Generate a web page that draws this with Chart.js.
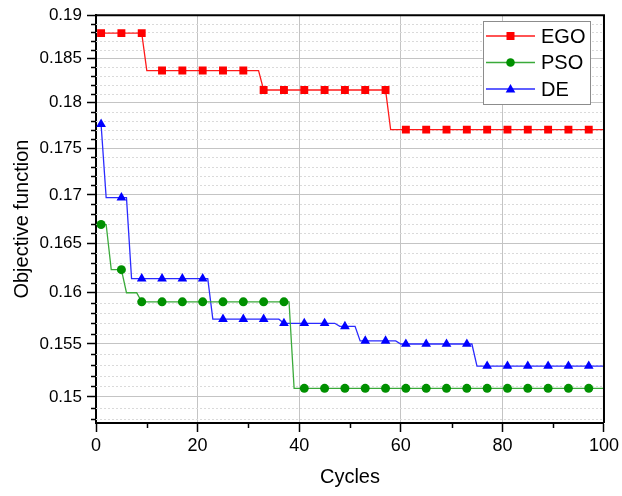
<!DOCTYPE html>
<html>
<head>
<meta charset="utf-8">
<script src="https://cdn.jsdelivr.net/npm/chart.js@4.4.0/dist/chart.umd.min.js"></script>
<style>
  html, body { margin: 0; padding: 0; background: #fff; }
  #wrap { width: 622px; height: 496px; }
</style>
</head>
<body>
<div id="wrap"><canvas id="chart"></canvas></div>
<script>
// cycles where the markers sit
const markerCycles = [1, 5, 9, 13, 17, 21, 25, 29, 33, 37, 41, 45, 49, 53, 57, 61, 65, 69, 73, 77, 81, 85, 89, 93, 97];

// objective value at each marker
const egoValues = [0.1879, 0.1879, 0.1879, 0.1836, 0.1836, 0.1836, 0.1836, 0.1836, 0.1814, 0.1814, 0.1814, 0.1814, 0.1814,
                   0.1814, 0.1814, 0.1770, 0.1770, 0.1770, 0.1770, 0.1770, 0.1770, 0.1770, 0.1770, 0.1770, 0.1770];
const psoValues = [0.1669, 0.1623, 0.1591, 0.1591, 0.1591, 0.1591, 0.1591, 0.1591, 0.1591, 0.1591, 0.1508, 0.1508, 0.1508,
                   0.1508, 0.1508, 0.1508, 0.1508, 0.1508, 0.1508, 0.1508, 0.1508, 0.1508, 0.1508, 0.1508, 0.1508];
const deValues  = [0.1776, 0.1697, 0.1614, 0.1614, 0.1614, 0.1614, 0.1574, 0.1574, 0.1574, 0.1570, 0.1570, 0.1570, 0.1567,
                   0.1553, 0.1553, 0.1550, 0.1550, 0.1550, 0.1550, 0.1529, 0.1529, 0.1529, 0.1529, 0.1529, 0.1529];

// step corners between markers: [cycle, value]
const egoSteps = [[10, 0.1836], [32, 0.1836], [58, 0.1770], [100, 0.1770]];
const psoSteps = [[2, 0.1669], [3, 0.1623], [6, 0.1600], [8, 0.1600], [38, 0.1591], [39, 0.1508], [100, 0.1508]];
const deSteps  = [[2, 0.1697], [6, 0.1697], [7, 0.1614], [22, 0.1614], [23, 0.1574], [36, 0.1574], [47, 0.1570],
                  [48, 0.1567], [51, 0.1567], [52, 0.1553], [59, 0.1553], [60, 0.1550], [74, 0.1550], [75, 0.1529], [100, 0.1529]];

const seriesNames = ['EGO', 'PSO', 'DE'];

const xTicks = [0, 20, 40, 60, 80, 100];
const xMinorTicks = [10, 30, 50, 70, 90];
const yTicks = [0.15, 0.155, 0.16, 0.165, 0.17, 0.175, 0.18, 0.185, 0.19];
const yTickLabels = ['0.15', '0.155', '0.16', '0.165', '0.17', '0.175', '0.18', '0.185', '0.19'];

const FONT = "'Liberation Sans', Arial, sans-serif";

function buildPoints(values, steps) {
  const pts = markerCycles.map((c, i) => ({ x: c, y: values[i], m: true }));
  steps.forEach(s => pts.push({ x: s[0], y: s[1], m: false }));
  return pts.sort((a, b) => a.x - b.x);
}

// minor y values every 0.001, skipping the majors
const yMinor = [];
for (let k = 148; k <= 189; k++) {
  if (k % 5 !== 0) yMinor.push(k / 1000);
}

const styles = [
  { line: '#ff1a1a', mark: '#ff0000', shape: 'rect',     r: 5.6 },
  { line: '#3aaa3a', mark: '#009000', shape: 'circle',   r: 4.5 },
  { line: '#2a2aff', mark: '#0000ff', shape: 'triangle', r: 5.6 },
];

function drawMarker(ctx, shape, color, x, y) {
  ctx.fillStyle = color;
  ctx.beginPath();
  if (shape === 'rect') {
    ctx.rect(x - 4, y - 4, 8, 8);
  } else if (shape === 'circle') {
    ctx.arc(x, y, 4.3, 0, Math.PI * 2);
  } else {
    ctx.moveTo(x, y - 5);
    ctx.lineTo(x - 4.8, y + 3.5);
    ctx.lineTo(x + 4.8, y + 3.5);
    ctx.closePath();
  }
  ctx.fill();
}

const framePlugin = {
  id: 'frame',
  beforeDatasetsDraw(chart) {
    const { ctx, chartArea: a, scales: { y } } = chart;
    ctx.save();
    ctx.strokeStyle = '#dadada';
    ctx.lineWidth = 1;
    ctx.setLineDash([2, 2]);
    yMinor.forEach(v => {
      const py = Math.round(y.getPixelForValue(v)) + 0.5;
      ctx.beginPath(); ctx.moveTo(a.left, py); ctx.lineTo(a.right, py); ctx.stroke();
    });
    ctx.restore();
  },
  afterDraw(chart) {
    const { ctx, chartArea: a, scales: { x, y } } = chart;
    ctx.save();
    ctx.strokeStyle = '#000';
    ctx.lineWidth = 1.5;
    yMinor.forEach(v => {
      const py = Math.round(y.getPixelForValue(v)) + 0.5;
      ctx.beginPath(); ctx.moveTo(a.left - 5, py); ctx.lineTo(a.left, py); ctx.stroke();
    });
    xMinorTicks.forEach(v => {
      const px = Math.round(x.getPixelForValue(v)) + 0.5;
      ctx.beginPath(); ctx.moveTo(px, a.bottom); ctx.lineTo(px, a.bottom + 5); ctx.stroke();
    });
    // top and right edges of the box
    ctx.lineWidth = 2;
    ctx.beginPath();
    ctx.moveTo(a.left, a.top); ctx.lineTo(a.right, a.top); ctx.lineTo(a.right, a.bottom);
    ctx.stroke();

    // legend
    const lx = 483.5, ly = 21.5, lw = 107, lh = 83;
    ctx.fillStyle = '#fff';
    ctx.fillRect(lx, ly, lw, lh);
    ctx.strokeStyle = '#8c8c8c';
    ctx.lineWidth = 1;
    ctx.strokeRect(lx, ly, lw, lh);
    ctx.font = '20px ' + FONT;
    ctx.textBaseline = 'middle';
    ctx.textAlign = 'left';
    seriesNames.forEach((name, i) => {
      const yy = 36 + i * 26.5;
      const s = styles[i];
      ctx.strokeStyle = s.line;
      ctx.lineWidth = 1.3;
      ctx.beginPath(); ctx.moveTo(486, yy); ctx.lineTo(535, yy); ctx.stroke();
      drawMarker(ctx, s.shape, s.mark, 510.5, yy);
      ctx.fillStyle = '#000';
      ctx.fillText(name, 541, yy + 1);
    });
    ctx.restore();
  }
};

const datasets = [
  buildPoints(egoValues, egoSteps),
  buildPoints(psoValues, psoSteps),
  buildPoints(deValues, deSteps),
].map((pts, i) => ({
  label: seriesNames[i],
  data: pts,
  borderColor: styles[i].line,
  borderWidth: 1.3,
  backgroundColor: styles[i].mark,
  pointBackgroundColor: styles[i].mark,
  pointBorderWidth: 0,
  pointStyle: styles[i].shape,
  pointRadius: ctx => (ctx.raw && ctx.raw.m ? styles[i].r : 0),
  tension: 0,
  fill: false,
}));

new Chart(document.getElementById('chart'), {
  type: 'line',
  data: { datasets },
  options: {
    responsive: true,
    maintainAspectRatio: false,
    animation: false,
    layout: { padding: { top: 12, right: 16, left: 0, bottom: 0 } },
    plugins: { legend: { display: false }, tooltip: { enabled: false } },
    scales: {
      x: {
        type: 'linear',
        min: 0, max: 100,
        afterBuildTicks: s => { s.ticks = xTicks.map(v => ({ value: v })); },
        afterFit: s => { s.height = 73; },
        ticks: { color: '#000', font: { family: FONT, size: 18 }, padding: 3, maxRotation: 0 },
        grid: { color: '#c4c4c4', lineWidth: 1, tickColor: '#000', tickLength: 9, tickWidth: 1.5 },
        border: { color: '#000', width: 2 },
        title: { display: true, text: 'Cycles', color: '#000', font: { family: FONT, size: 20 }, padding: { top: 0, bottom: 7 } },
      },
      y: {
        type: 'logarithmic',
        min: 0.1476, max: 0.19,
        afterBuildTicks: s => { s.ticks = yTicks.map(v => ({ value: v })); },
        afterFit: s => { s.width = 96; },
        ticks: {
          color: '#000', font: { family: FONT, size: 17 }, padding: 5, autoSkip: false,
          callback: (v, i) => yTickLabels[i],
        },
        grid: { color: '#c4c4c4', lineWidth: 1, tickColor: '#000', tickLength: 9, tickWidth: 1.5 },
        border: { color: '#000', width: 2 },
        title: { display: true, text: 'Objective function', color: '#000', font: { family: FONT, size: 20 }, padding: { top: 10, bottom: 0 } },
      },
    },
  },
  plugins: [framePlugin],
});
</script>
</body>
</html>
